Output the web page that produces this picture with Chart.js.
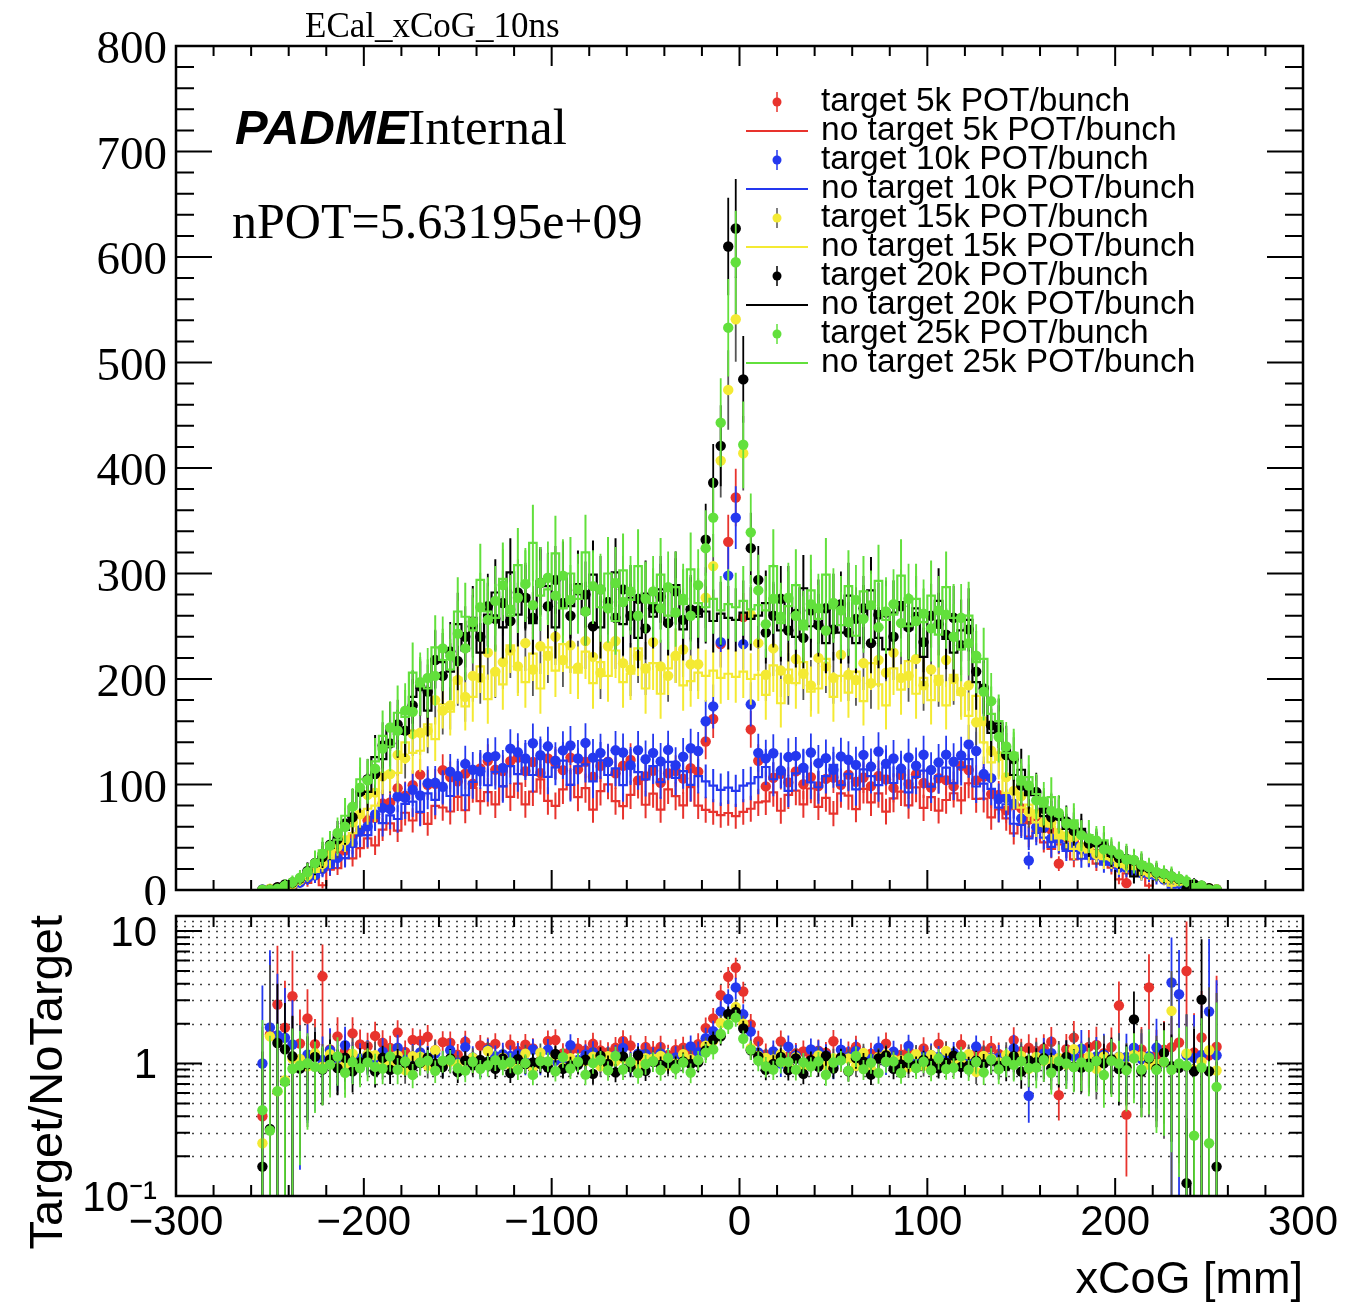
<!DOCTYPE html>
<html>
<head>
<meta charset="utf-8">
<script src="https://cdn.jsdelivr.net/npm/chart.js@4.4.0/dist/chart.umd.min.js"></script>
<style>
  html, body { margin: 0; padding: 0; background: #fff; }
  #wrap { position: relative; width: 1345px; height: 1304px; }
  canvas { position: absolute; left: 0; }
  #top { top: 0; }
  #bot { top: 905px; }
</style>
</head>
<body>
<div id="wrap">
  <canvas id="top" width="1345" height="905"></canvas>
  <canvas id="bot" width="1345" height="399"></canvas>
</div>
<script>
// bin centres (mm)
const xCoG = [
  -258,-254,-250,-246,-242,-238,-234,-230,-226,-222,
  -218,-214,-210,-206,-202,-198,-194,-190,-186,-182,
  -178,-174,-170,-166,-162,-158,-154,-150,-146,-142,
  -138,-134,-130,-126,-122,-118,-114,-110,-106,-102,
  -98,-94,-90,-86,-82,-78,-74,-70,-66,-62,
  -58,-54,-50,-46,-42,-38,-34,-30,-26,-22,
  -18,-14,-10,-6,-2,2,6,10,14,18,
  22,26,30,34,38,42,46,50,54,58,
  62,66,70,74,78,82,86,90,94,98,
  102,106,110,114,118,122,126,130,134,138,
  142,146,150,154,158,162,166,170,174,178,
  182,186,190,194,198,202,206,210,214,218,
  222,226,230,234,238,242,246,250,254,258
];

// target 5k
const target5k = [
  0,0.2,0.63,2.4,3.6,5.8,7.5,14.5,15.8,20.5,
  24.8,33.2,37.5,50.5,55.3,66.2,68.4,82.1,82.9,96.4,
  89.5,99.3,109.3,99.8,100.6,113.5,107.1,103,110.3,100.8,
  115.2,122.4,114.1,112.8,122.2,125.6,112.7,121.3,110.9,124.8,
  120.1,113.6,125.5,114.3,121.5,107.4,117.6,121.7,110.7,117.8,
  123.3,103.9,107.9,113,101.7,110.6,112.8,105.6,115.4,112.1,
  140.8,162.1,233.1,330,372,258.8,152.2,122.4,98.2,106.4,
  110.1,102,112.4,100.2,107,98.5,105.3,106.6,99.8,109.3,
  102.6,106.6,98.5,108,104.8,96.8,108.9,100.4,109.8,101.4,
  97.1,105.9,104.1,98.2,117.8,113.7,103.9,107.4,90.9,90,
  75.5,80.6,77.5,66.7,69.8,58.6,57,25,50.1,45.7,
  39.4,40.2,34.6,33.2,28.1,27.4,6.5,21.4,20.2,15.8,
  14.4,10.9,10.5,8.5,6.5,4.6,3.3,1.5,0.79,0
];
const noTarget5k = [
  0,0.5,0.38,0.86,1.93,1.8,5.29,6.62,11.3,4.5,
  19.4,20.7,30.3,29.9,39.6,49,42.3,57.2,63.1,56.2,
  73.2,65.9,73.4,62.7,79.8,78.2,74.4,88.2,75.6,96.7,
  84.2,92.8,81.1,98.4,88.2,100.8,81.2,93.2,104.9,84.4,
  79.8,95.4,99.7,88,96.6,76.2,93.8,100.1,84.2,79.5,
  90.2,100.9,80.8,91.4,76.1,95.4,88.9,80.2,97.5,80,
  76,74,71,73,70,74,77,83,84,92.6,
  75.1,90.1,94.1,81.2,96.2,78.8,87.3,72.4,91.6,89.5,
  76.7,95.9,83.1,91.6,74.2,86.9,93.3,80.3,97.2,77.9,
  88.1,75.2,85.3,91.7,84.9,101.2,86.4,86.7,68.9,76.3,
  67.9,53.6,62.4,50.7,56,45.1,39,43.3,39,29.1,
  35.6,30.1,25,27.7,21.1,10,15.8,16.6,15.8,4.2,
  12.4,8.55,7.9,5.9,1.3,3.8,2.1,1.3,0.59,0
];

// target 10k
const target10k = [
  0,0.6,0.9,1.8,3.4,4.47,7.1,11.2,14,20.1,
  26.5,30.4,41.4,44.4,56.6,60.3,71.7,77.8,76.7,88.6,
  87.3,95,89.6,101.3,101.6,97.8,112.2,108,119.5,114,
  112.5,126.1,126.9,115.8,134,130.5,124.6,139.1,127.7,136.2,
  122.6,132.3,137,124.6,139.4,125.5,130,121.2,132.4,130.3,
  118.3,132.6,124,130,121.9,132.8,118.2,126.3,134.4,131.7,
  160,174,235,298,353,233,176,130,124.8,129.6,
  113.2,126,127.1,115.9,130.3,120.2,125,113.9,126.6,123.4,
  118.6,128.1,117,131.3,119.8,124.6,115.1,125.6,117.8,128.2,
  113.8,121,128.3,121.6,127.5,138,131.8,109.9,106,86.3,
  87.2,81.8,67.8,28,59.5,59.2,48.9,48.8,40.7,42.2,
  38.3,33,33.5,28,26.9,21.3,21.3,19.9,16.1,15.1,
  13.6,10,9,8,5.2,4.3,2.9,1.36,0.75,0
];
const noTarget10k = [
  0,0.6,0.48,1.1,2.17,3.21,6.76,9.58,12.26,18.9,
  21,28.7,30.1,41,51.8,52,69,63.3,70.8,67.3,
  81.6,83.7,74,91.6,85.5,96.5,89.1,106,89.8,102.4,
  115.6,99.3,111.9,98.3,117.4,109.8,121.8,109,125.4,107.2,
  116.3,122.7,99.6,117.3,119.1,103,122.8,109,115.2,99.4,
  116.6,111.8,104.8,117.5,102.3,121.4,106.2,112.7,99.7,108,
  103,99,95,97,94,99,101,107,116.6,105,
  113.2,94,110.6,116.9,102,97.4,108,118.6,99.5,110.1,
  95.3,114.4,108,99.5,116.2,101.4,112,92.5,107.2,113.1,
  98,108,116,101.2,116.2,124,98.1,100.8,95.8,78.1,
  81.3,62.8,61.7,49,54.1,49.6,40.8,45.5,37,37,
  29.6,30.4,29.6,24,25.2,18.9,19,15.1,14.9,13.3,
  10.3,9.8,2.2,2.4,4.5,3.9,2.5,0.55,0.65,0
];

// target 15k
const target15k = [
  0,0.1,1.3,0.9,2.5,5.31,9.7,13.8,20.5,24.7,
  35.3,41.1,47.2,64,71.7,90.3,92.3,107.8,110,128,
  125,148,149,151,180,170,175,199,183,203,
  201,225,207,216,227,212,234,209,231,222,
  240,218,232,211,236,221,206,231,236,215,
  209,222,210,235,212,203,222,228,214,214,
  277,307,407,474,541,414,261,234,204,229,
  208,200,219,205,194,220,212,201,223,204,
  199,215,196,218,206,225,201,203,219,194,
  209,198,218,200,188,194,159,160,132,127,
  107,94,89,74,72,64,64,54,51,50,
  41,40.2,33.7,33.2,31.1,25.4,23.4,23.3,18.2,16.6,
  15,11.2,10.5,8.5,6.8,4.7,3,1.7,0.7,0
];
const noTarget15k = [
  0,0.4,0.81,1.46,3.34,4.89,8.94,14.5,17.1,26.1,
  30,44,48,54,74,77,80,109,112,111,
  140,130,132,157,143,176,169,201,174,183,
  212,181,208,195,232,209,197,224,191,230,
  208,233,211,206,226,196,216,203,227,197,
  205,229,191,215,186,210,222,194,198,206,
  203,208,201,205,202,207,200,204,185,213,
  177,209,196,216,188,191,219,183,203,187,
  207,179,215,195,175,210,190,217,186,201,
  180,203,175,204,185,165,184,140,121,124,
  92,93,78,81,64,61,60,49,52,39,
  41.8,35.7,36.9,29.3,29.2,22.6,24.6,20.1,16,17,
  15.1,10.9,4.2,8.6,5.7,5.2,2.9,1.35,0.79,0
];

// target 20k
const target20k = [
  0,0.1,0.35,2.6,5.2,7.1,10.8,18,25.6,31.2,
  43,48,63,69,93,105,110,137,139,157,
  151,175,193,188,218,203,226,217,240,250,
  240,269,257,272,255,282,277,258,291,269,
  294,272,260,284,280,250,285,273,258,285,
  260,276,248,267,278,253,283,256,266,265,
  332,386,421,610,627,484,324,294,244,260,
  276,246,262,239,265,251,267,247,271,244,
  257,267,234,261,263,240,269,249,259,235,
  260,252,242,258,232,247,207,191,156,152,
  128,124,99,95,93,77,69,70,65,56,
  54,44,45,42.6,35,30.3,29.4,28,22,20.5,
  16.4,15.4,12.8,10.3,0.9,5.6,4.1,1.75,0.15,0
];
const noTarget20k = [
  0,0.6,1.09,1.82,4.06,6.26,11.8,18.2,22.8,34.6,
  40,52,57,79,91,93,126,124,155,148,
  149,183,191,170,219,216,207,252,227,258,
  225,261,282,249,301,261,279,253,293,288,
  249,298,269,290,262,299,249,275,301,252,
  277,239,281,259,285,252,289,247,268,259,
  264,255,262,258,256,263,257,260,272,262,
  246,276,240,286,250,264,234,269,244,279,
  234,259,284,239,228,263,273,247,267,221,
  260,274,238,225,246,256,197,193,149,158,
  134,109,114,90,91,70,75,73,58,59,
  58,44,43,42.4,32.4,33.3,31.3,13,25.3,18.8,
  17.9,12.8,13.4,11.1,7.2,6.4,1.35,2,0.9,0
];

// target 25k
const target25k = [
  0,0.4,0.3,1.3,4,7.4,11.6,17.1,25.5,34.3,
  42,54,60,79,97,104,115,134,154,151,
  170,169,197,201,203,229,222,243,229,254,
  268,256,274,289,266,277,290,270,291,296,
  279,298,275,285,264,288,285,267,291,273,
  283,260,276,283,267,287,263,276,260,289,
  324,353,443,533,595,422,339,284,252,276,
  259,277,260,252,271,267,246,272,265,254,
  275,257,270,249,264,271,253,276,255,262,
  248,265,261,240,258,234,222,188,179,145,
  136,127,104,99,85,84,75,73,63,62,
  52,49,47,38.5,37.7,34,28.8,28.4,23.8,21.4,
  17.1,15.5,13.1,10.8,8.3,1.6,4.2,0.5,0.6,0
];
const noTarget25k = [
  0,0.9,0.96,2.1,5.5,8.1,12,17,27,37.6,
  42.8,47.8,70.4,77,105,102,122,146,136,168,
  164,206,193,191,230,218,209,264,259,246,
  294,264,258,295,260,308,288,329,279,285,
  319,267,300,276,320,286,268,300,255,303,
  275,307,278,272,299,260,287,271,304,272,
  268,276,265,271,268,274,266,270,265,307,
  253,269,289,247,284,257,299,267,251,288,
  241,283,267,293,256,261,298,250,276,254,
  279,242,287,258,228,260,216,219,167,160,
  130,130,100,107,91,79,88,70,63,66,
  51,52,45,47,36,34,32.4,25.9,26.4,19.3,
  19.1,15,14.6,10.8,8.6,5.6,4.5,2,0.9,0
];

const seriesNames = ['5k', '10k', '15k', '20k', '25k'];
const targetCounts = [target5k, target10k, target15k, target20k, target25k];
const noTargetCounts = [noTarget5k, noTarget10k, noTarget15k, noTarget20k, noTarget25k];
const statWeight = [2, 2.5, 3, 3.5, 4];

const xTicks = [-300, -200, -100, 0, 100, 200, 300];
const countTicks = [0, 100, 200, 300, 400, 500, 600, 700, 800];
const ratioTicks = [0.1, 1, 10];

const seriesColors = ['#e8332d', '#2438ef', '#f4ea33', '#000000', '#62e03c'];
const errColors = ['#e8332d', '#2438ef', '#555555', '#000000', '#62e03c'];

const SANS = "'Liberation Sans', Arial, sans-serif";
const SERIF = "'Liberation Serif', 'Times New Roman', serif";

// error bars, drawn just under each dataset's own marks
const errorBars = {
  id: 'errorBars',
  beforeDatasetDraw(chart, args) {
    const ds = chart.data.datasets[args.index];
    if (!ds.errs) return;
    const { ctx, chartArea: a, scales: { x, y } } = chart;
    ctx.save();
    ctx.beginPath();
    ctx.rect(a.left, a.top, a.right - a.left, a.bottom - a.top);
    ctx.clip();
    ctx.strokeStyle = ds.errColor;
    ctx.lineWidth = ds.errWidth || 1.8;
    ctx.beginPath();
    ds.data.forEach((p, i) => {
      const e = ds.errs[i];
      if (!e) return;
      const px = x.getPixelForValue(p.x);
      const lo = Math.max(p.y - e, y.min);
      ctx.moveTo(px, y.getPixelForValue(lo));
      ctx.lineTo(px, y.getPixelForValue(p.y + e));
    });
    ctx.stroke();
    ctx.restore();
  }
};

// ROOT style frame with inward ticks on all four sides
const rootFrame = {
  id: 'rootFrame',
  afterDatasetsDraw(chart, args, o) {
    const { ctx, chartArea: a, scales: { x, y } } = chart;
    ctx.save();
    ctx.strokeStyle = '#000';
    ctx.lineWidth = 2;
    ctx.beginPath();
    const xt = (v, len) => {
      const p = x.getPixelForValue(v);
      ctx.moveTo(p, a.bottom); ctx.lineTo(p, a.bottom - len);
      ctx.moveTo(p, a.top); ctx.lineTo(p, a.top + len);
    };
    const yt = (v, len) => {
      const p = y.getPixelForValue(v);
      ctx.moveTo(a.left, p); ctx.lineTo(a.left + len, p);
      ctx.moveTo(a.right, p); ctx.lineTo(a.right - len, p);
    };
    o.xMajor.forEach(v => xt(v, o.xLen[0]));
    o.xMinor.forEach(v => xt(v, o.xLen[1]));
    o.yMajor.forEach(v => yt(v, o.yLen[0]));
    o.yMinor.forEach(v => yt(v, o.yLen[1]));
    ctx.stroke();
    ctx.lineWidth = 2.5;
    ctx.strokeRect(a.left, a.top, a.right - a.left, a.bottom - a.top);
    ctx.restore();
  }
};

// dotted horizontal grid of the ratio pad
const logGrid = {
  id: 'logGrid',
  beforeDatasetsDraw(chart, args, o) {
    if (!o.values) return;
    const { ctx, chartArea: a, scales: { y } } = chart;
    ctx.save();
    ctx.strokeStyle = '#444';
    ctx.lineWidth = 1.6;
    ctx.setLineDash([2, 6]);
    ctx.beginPath();
    o.values.forEach(v => {
      const p = Math.round(y.getPixelForValue(v)) + 0.5;
      ctx.moveTo(a.left, p); ctx.lineTo(a.right, p);
    });
    ctx.stroke();
    ctx.restore();
  }
};

const topText = {
  id: 'topText',
  afterDraw(chart) {
    const ctx = chart.ctx;
    ctx.save();
    ctx.fillStyle = '#000';
    ctx.textBaseline = 'alphabetic';
    ctx.font = '35px ' + SERIF;
    ctx.fillText('ECal_xCoG_10ns', 305, 37);
    ctx.font = 'italic bold 49px ' + SANS;
    ctx.fillText('PADME', 235, 144);
    const pw = ctx.measureText('PADME').width;
    ctx.font = '51px ' + SERIF;
    ctx.fillText('Internal', 235 + pw, 144);
    ctx.font = '50px ' + SERIF;
    ctx.fillText('nPOT=5.63195e+09', 232, 238);

    // legend
    ctx.font = '33.5px ' + SANS;
    ctx.textBaseline = 'middle';
    seriesNames.forEach((name, s) => {
      const yt = 102 + 58 * s, yn = yt + 29;
      ctx.strokeStyle = errColors[s];
      ctx.lineWidth = 1.5;
      ctx.beginPath(); ctx.moveTo(777, yt - 10); ctx.lineTo(777, yt + 10); ctx.stroke();
      ctx.fillStyle = seriesColors[s];
      ctx.beginPath(); ctx.arc(777, yt, 4.5, 0, Math.PI * 2); ctx.fill();
      ctx.strokeStyle = seriesColors[s];
      ctx.lineWidth = 2;
      ctx.beginPath(); ctx.moveTo(746, yn); ctx.lineTo(808, yn); ctx.stroke();
      ctx.fillStyle = '#000';
      ctx.fillText('target ' + name + ' POT/bunch', 821, yt);
      ctx.fillText('no target ' + name + ' POT/bunch', 821, yn);
    });
    ctx.restore();
  }
};

const botText = {
  id: 'botText',
  afterDraw(chart) {
    const ctx = chart.ctx;
    ctx.save();
    ctx.fillStyle = '#000';
    ctx.font = '47px ' + SANS;
    ctx.textBaseline = 'alphabetic';
    ctx.save();
    ctx.translate(62, 10);
    ctx.rotate(-Math.PI / 2);
    ctx.textAlign = 'right';
    ctx.fillText('Target/NoTarget', 0, 0);
    ctx.restore();
    ctx.font = '45px ' + SANS;
    ctx.textAlign = 'right';
    ctx.fillText('xCoG [mm]', 1303, 388);
    ctx.restore();
  }
};

const noPad = s => { s.paddingTop = 0; s.paddingBottom = 0; s.paddingLeft = 0; s.paddingRight = 0; };
const minorX = [];
for (let v = -280; v < 300; v += 20) if (v % 100 !== 0) minorX.push(v);
const minorCounts = [];
for (let v = 20; v < 800; v += 20) if (v % 100 !== 0) minorCounts.push(v);
const minorRatio = [0.2, 0.3, 0.4, 0.5, 0.6, 0.7, 0.8, 0.9, 2, 3, 4, 5, 6, 7, 8, 9];

// top pad: target points and no-target histograms
const topSets = [];
let drawn = 0;
seriesNames.forEach((name, s) => {
  const t = targetCounts[s], n = noTargetCounts[s], w = statWeight[s];
  const tPts = [], tErr = [];
  xCoG.forEach((x, i) => {
    if (t[i] > 0) { tPts.push({ x, y: t[i] }); tErr.push(Math.sqrt(w * t[i])); }
  });
  topSets.push({
    type: 'scatter', label: 'target ' + name, data: tPts, errs: tErr, errColor: errColors[s],
    pointRadius: 5.2, pointBackgroundColor: seriesColors[s], pointBorderWidth: 0,
    order: 20 - drawn++
  });
  const nPts = [{ x: xTicks[0], y: 0 }], nErr = [0];
  xCoG.forEach((x, i) => {
    nPts.push({ x, y: n[i] });
    nErr.push(n[i] > 0 ? Math.sqrt(w * n[i]) : 0);
  });
  nPts.push({ x: xTicks[xTicks.length - 1], y: 0 }); nErr.push(0);
  topSets.push({
    type: 'line', label: 'no target ' + name, data: nPts, errs: nErr, errColor: seriesColors[s], errWidth: 2,
    borderColor: seriesColors[s], borderWidth: 2.2, pointRadius: 0, stepped: 'middle', fill: false,
    order: 20 - drawn++
  });
});

new Chart(document.getElementById('top'), {
  type: 'scatter',
  data: { datasets: topSets },
  plugins: [errorBars, rootFrame, topText],
  options: {
    responsive: false, animation: false, devicePixelRatio: 1, events: [],
    layout: { padding: { left: 0, right: 42, top: 46, bottom: 0 } },
    plugins: {
      legend: { display: false }, tooltip: { enabled: false },
      rootFrame: { xMajor: xTicks, xMinor: minorX, xLen: [20, 10], yMajor: countTicks, yMinor: minorCounts, yLen: [36, 18] }
    },
    scales: {
      x: {
        type: 'linear', min: -300, max: 300,
        ticks: { display: false }, grid: { display: false, drawTicks: false }, border: { display: false },
        afterFit: s => { s.height = 15; noPad(s); }
      },
      y: {
        type: 'linear', min: 0, max: 800,
        afterBuildTicks: s => { s.ticks = countTicks.map(v => ({ value: v })); },
        ticks: { font: { family: SERIF, size: 47 }, color: '#000', padding: 9, labelOffset: 5 },
        grid: { display: false, drawTicks: false }, border: { display: false },
        afterFit: s => { s.width = 176; noPad(s); }
      }
    }
  }
});

// ratio pad
const ratioSets = seriesNames.map((name, s) => {
  const t = targetCounts[s], n = noTargetCounts[s], w = statWeight[s];
  const pts = [], errs = [];
  xCoG.forEach((x, i) => {
    if (t[i] > 0 && n[i] > 0) {
      const r = t[i] / n[i];
      pts.push({ x, y: r });
      errs.push(r * Math.sqrt(w / t[i] + w / n[i]));
    }
  });
  return {
    type: 'scatter', label: 'ratio ' + name, data: pts, errs, errColor: errColors[s],
    pointRadius: 5.2, pointBackgroundColor: seriesColors[s], pointBorderWidth: 0,
    order: 10 - s
  };
});

new Chart(document.getElementById('bot'), {
  type: 'scatter',
  data: { datasets: ratioSets },
  plugins: [logGrid, errorBars, rootFrame, botText],
  options: {
    responsive: false, animation: false, devicePixelRatio: 1, events: [],
    layout: { padding: { left: 0, right: 42, top: 11, bottom: 0 } },
    plugins: {
      legend: { display: false }, tooltip: { enabled: false },
      logGrid: { values: [0.2, 0.3, 0.4, 0.5, 0.6, 0.7, 0.8, 0.9, 1, 2, 3, 4, 5, 6, 7, 8, 9, 10, 11, 12] },
      rootFrame: { xMajor: xTicks, xMinor: minorX, xLen: [18, 11], yMajor: ratioTicks, yMinor: minorRatio, yLen: [26, 14] }
    },
    scales: {
      x: {
        type: 'linear', min: -300, max: 300,
        afterBuildTicks: s => { s.ticks = xTicks.map(v => ({ value: v })); },
        ticks: {
          font: { family: SANS, size: 42 }, color: '#000', padding: 2, autoSkip: false, maxRotation: 0,
          callback: v => String(v).replace('-', '\u2212')
        },
        grid: { display: false, drawTicks: false }, border: { display: false },
        afterFit: s => { s.height = 108; noPad(s); }
      },
      y: {
        type: 'logarithmic', min: 0.1, max: 13,
        afterBuildTicks: s => { s.ticks = ratioTicks.map(v => ({ value: v })); },
        ticks: {
          font: { family: SANS, size: 42 }, color: '#000', padding: 19, labelOffset: 3, autoSkip: false,
          callback: v => (v < 0.5 ? '10\u207B\u00B9' : String(v))
        },
        grid: { display: false, drawTicks: false }, border: { display: false },
        afterFit: s => { s.width = 176; noPad(s); }
      }
    }
  }
});
</script>
</body>
</html>
